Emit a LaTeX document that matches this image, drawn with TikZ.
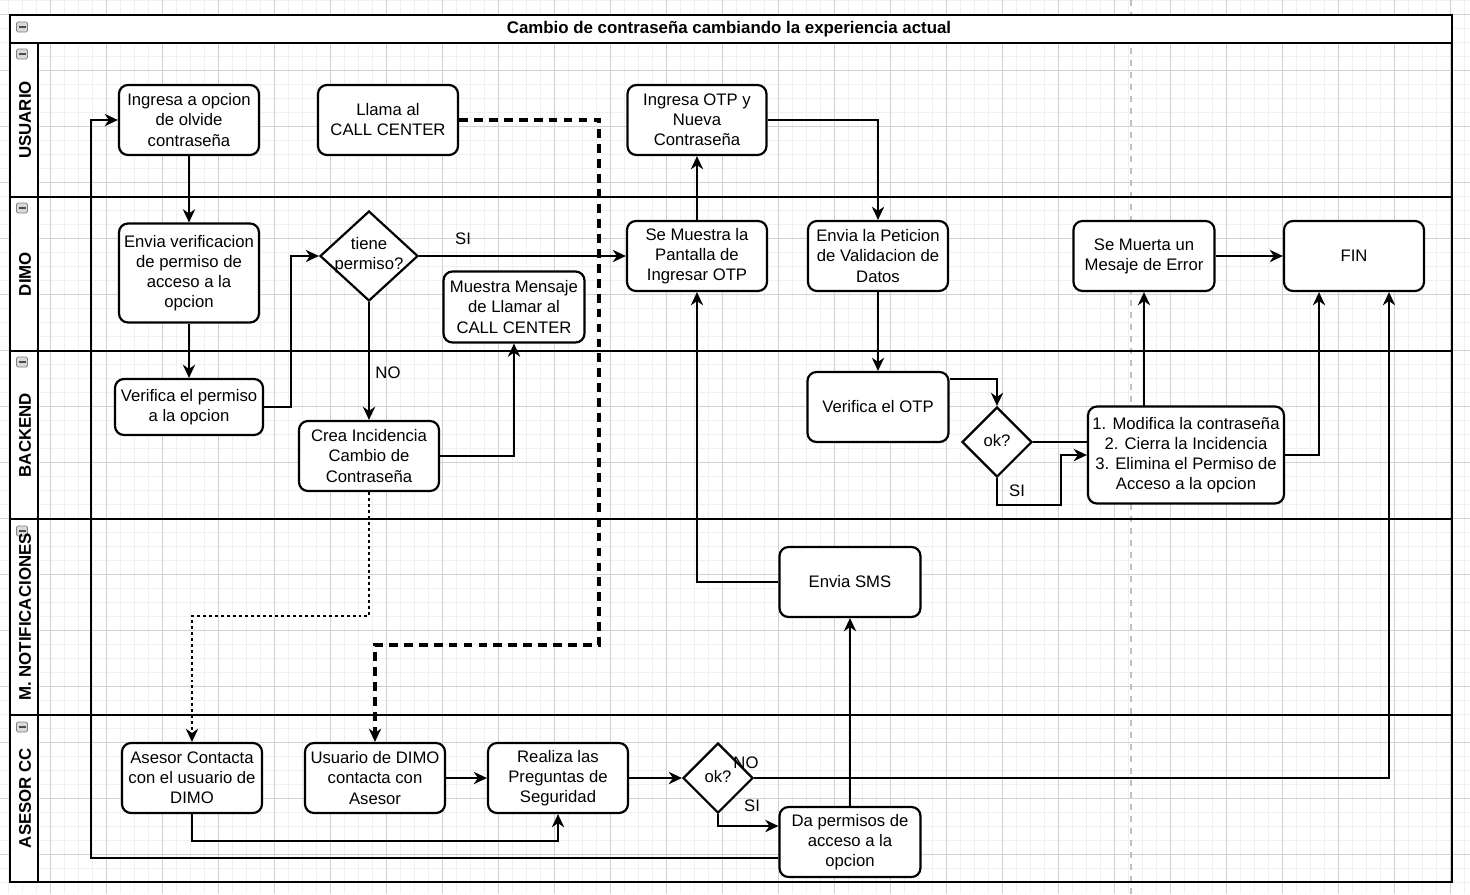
\documentclass[tikz,border=0pt]{standalone}
\usepackage{fontspec}
\setmainfont{Liberation Sans}
\usetikzlibrary{arrows.meta,shapes.geometric,calc}
\newlength\PX
\setlength\PX{0.02cm}
\pgfdeclarelayer{bg}
\pgfsetlayers{bg,main}
\begin{document}
\begin{tikzpicture}[x=0.02cm,y=-0.02cm,
  font=\fontsize{9.5}{11.4}\selectfont,
  box/.style={draw, line width=1.25pt, rounded corners=9\PX, fill=white, align=center,
              minimum width=140\PX, minimum height=70\PX, inner sep=1pt},
  dec/.style={draw, diamond, line width=1.25pt, fill=white, inner sep=0pt,
              minimum width=70\PX, minimum height=70\PX},
  arr/.style={line width=1.25pt, -{Stealth[length=7.5pt,width=7pt,inset=2.4pt]}},
  lane/.style={line width=1.45pt},
  lbl/.style={font=\fontsize{9.6}{11.4}\selectfont\bfseries, rotate=90, inner sep=0pt},
  tag/.style={inner sep=0pt, align=center},
  dotline/.style={line width=1.25pt, dash pattern=on 1.7pt off 1.7pt},
  dashline/.style={line width=1.8pt, dash pattern=on 5pt off 3.5pt},
]
\useasboundingbox (0,0) rectangle (1470,894);
\begin{pgfonlayer}{bg}
  % grid
  \foreach \x in {8,22,...,1470} \draw[black!6, line width=0.5pt] (\x,0) -- (\x,894);
  \foreach \y in {0,14,...,894} \draw[black!6, line width=0.5pt] (0,\y) -- (1470,\y);
  \foreach \x in {50,106,...,1470} \draw[black!18, line width=0.5pt] (\x,0) -- (\x,894);
  \foreach \y in {14,70,...,894} \draw[black!18, line width=0.5pt] (0,\y) -- (1470,\y);
  % page break
  \draw[black!25, line width=1.2pt, dash pattern=on 6\PX off 6\PX] (1131,0) -- (1131,894);
  % pool
  \fill[white] (10,15) rectangle (1452,43);
  \fill[white] (10,43) rectangle (38,882);
  \draw[lane] (10,15) rectangle (1452,882);
  \draw[lane] (10,43) -- (1452,43);
  \foreach \y in {197,351,519,715} \draw[lane] (10,\y) -- (1452,\y);
  \draw[lane] (38,43) -- (38,882);
  % collapse icons
  \foreach \y in {27,54,208,362,531,727} {
    \draw[black!50, fill=black!15, rounded corners=0.8pt, line width=0.45pt] (16.5,{\y-5}) rectangle (27.5,{\y+5});
    \draw[black!70, line width=1pt] (18.5,\y) -- (25.5,\y);
  }
\end{pgfonlayer}

% title and lane labels
\node[font=\fontsize{9.6}{11.4}\selectfont\bfseries, inner sep=0pt] (title) at (729,29) {Cambio de contraseña cambiando la experiencia actual};
\node[lbl] (lu) at (25,120) {USUARIO};
\node[lbl] (ld) at (25,274) {DIMO};
\node[lbl] (lb) at (25,435) {BACKEND};
\node[lbl] (ln) at (25,617) {M. NOTIFICACIONES};
\node[lbl] (la) at (25,798) {ASESOR CC};

% nodes
\node[box] (ing) at (189,120) {Ingresa a opcion\\de olvide\\contraseña};
\node[box] (ll) at (388,120) {Llama al\\CALL CENTER};
\node[box, minimum width=139\PX] (iotp) at (697,120) {Ingresa OTP y\\Nueva\\Contraseña};
\node[box, minimum height=99\PX] (ev) at (189,273) {Envia verificacion\\de permiso de\\acceso a la\\opcion};
\node[dec, minimum width=98\PX, minimum height=90\PX] (d1) at (369,256) {};
\node[tag] (d1t) at (369,255) {tiene\\permiso?};
\node[box, minimum width=141\PX, minimum height=71\PX] (mm) at (514,307) {Muestra Mensaje\\de Llamar al\\CALL CENTER};
\node[box] (smp) at (697,256) {Se Muestra la\\Pantalla de\\Ingresar OTP};
\node[box] (pet) at (878,256) {Envia la Peticion\\de Validacion de\\Datos};
\node[box, minimum width=141\PX] (sme) at (1144,256) {Se Muerta un\\Mesaje de Error};
\node[box] (fin) at (1354,256) {FIN};
\node[box, minimum width=148\PX, minimum height=56\PX] (vp) at (189,407) {Verifica el permiso\\a la opcion};
\node[box] (ci) at (369,456) {Crea Incidencia\\Cambio de\\Contraseña};
\node[box, minimum width=141\PX] (votp) at (878,407) {Verifica el OTP};
\node[dec] (d2) at (997,442) {};
\node[tag] (d2t) at (997,441) {ok?};
\node[box, minimum width=196\PX, minimum height=97\PX] (mod) at (1186,455) {1. Modifica la contraseña\\2. Cierra la Incidencia\\3. Elimina el Permiso de\\Acceso a la opcion};
\node[box, minimum width=141\PX] (sms) at (850,582) {Envia SMS};
\node[box] (ac) at (192,778) {Asesor Contacta\\con el usuario de\\DIMO};
\node[box] (ud) at (375,778) {Usuario de DIMO\\contacta con\\Asesor};
\node[box] (rp) at (558,778) {Realiza las\\Preguntas de\\Seguridad};
\node[dec] (d3) at (718,778) {};
\node[tag] (d3t) at (718,777) {ok?};
\node[box, minimum width=141\PX] (dp) at (850,842) {Da permisos de\\acceso a la\\opcion};

% edge labels
\node[tag] (lsi1) at (463,239) {SI};
\node[tag] (lno1) at (388,373) {NO};
\node[tag] (lsi2) at (1017,491) {SI};
\node[tag] (lno2) at (746,763) {NO};
\node[tag] (lsi3) at (752,806) {SI};

% bend coordinates
\coordinate (c0) at (291,330);
\coordinate (g1) at (369,616);
\coordinate (h1) at (599,645);
\coordinate (l1) at (997,379);
\coordinate (m1) at (1061,505);
\coordinate (n1) at (1319,455);
\coordinate (t1) at (1389,778);
\coordinate (u1) at (718,826);
\coordinate (q1) at (192,841);
\coordinate (w1) at (91,858);

\begin{pgfonlayer}{bg}
  \draw[arr] (ing.south) -- (ev.north);
  \draw[arr] (ev.south) -- (vp.north);
  \draw[arr] (vp.east) -| (c0) |- (d1.west);
  \draw[arr] (d1.east) -- (smp.west);
  \draw[arr] (d1.south) -- (ci.north);
  \draw[arr] (ci.east) -| (mm.south);
  \draw[dotline, -{Stealth[length=7.5pt,width=7pt,inset=2.4pt]}] (ci.south) -- (g1) -| (ac.north);
  \draw[dashline, -{Stealth[length=7.5pt,width=7pt,inset=2.4pt]}] (ll.east) -| (h1) -| (ud.north);
  \draw[arr] (smp.north) -- (iotp.south);
  \draw[arr] (iotp.east) -| (pet.north);
  \draw[arr] (pet.south) -- (votp.north);
  \draw[arr] (votp.east |- l1) -- (l1) -- (d2.north);
  \draw[arr] (d2.east) -| (sme.south);
  \draw[arr] (d2.south) |- (m1) |- (mod.west);
  \draw[arr] (mod.east) -- (n1) -- (n1 |- fin.south);
  \draw[arr] (sme.east) -- (fin.west);
  \draw[arr] (sms.west) -| (smp.south);
  \draw[arr] (ac.south) -- (q1) -| (rp.south);
  \draw[arr] (ud.east) -- (rp.west);
  \draw[arr] (rp.east) -- (d3.west);
  \draw[arr] (d3.east) -- (t1) -- (t1 |- fin.south);
  \draw[arr] (d3.south) -- (u1) -- (u1 -| dp.west);
  \draw[arr] (dp.north) -- (sms.south);
  \draw[arr] (dp.west |- w1) -- (w1) |- (ing.west);
\end{pgfonlayer}
\end{tikzpicture}
\end{document}
